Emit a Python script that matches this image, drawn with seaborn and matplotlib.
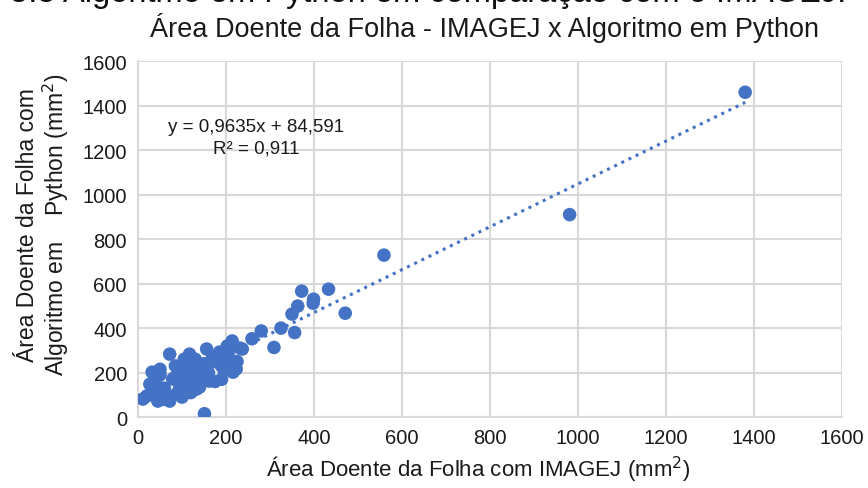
import numpy as np
import pandas as pd
import seaborn as sns
import matplotlib.pyplot as plt

# area (mm2): IMAGEJ vs python algorithm
imagej = [1380, 981, 559, 471, 433, 399, 398, 372, 363, 350, 356, 325, 309, 280, 259,
          237, 232, 214, 203, 216, 223, 207, 185, 180, 156, 151, 167, 162, 144, 133,
          133, 117, 117, 110, 101, 95, 79, 72, 72, 56, 45, 32, 27, 11,
          20, 40, 50, 60, 65, 85, 90, 100, 105, 120, 125, 130, 140, 150, 160, 170,
          175, 190, 195, 200, 210, 120, 85, 60, 35, 50, 100, 140, 110, 190, 205, 225]
python_alg = [1460, 910, 728, 467, 575, 530, 512, 566, 499, 463, 380, 400, 313, 387, 352,
              306, 310, 342, 320, 202, 216, 261, 292, 247, 306, 15, 252, 162, 216, 216,
              126, 283, 171, 247, 202, 139, 171, 283, 72, 117, 72, 202, 148, 81,
              95, 160, 190, 130, 100, 230, 110, 150, 260, 230, 190, 260, 180, 240, 200, 270,
              160, 230, 215, 275, 230, 110, 180, 80, 110, 215, 90, 135, 130, 170, 290, 250]

slope = 0.9635
intercept = 84.591
eq_text = "y = 0,9635x + 84,591"
r2_text = "R² = 0,911"
ticks = [0, 200, 400, 600, 800, 1000, 1200, 1400, 1600]

df = pd.DataFrame({"imagej": imagej, "python": python_alg})

sns.set_style("whitegrid")
plt.rcParams['font.family'] = ['Liberation Sans', 'DejaVu Sans']
blue = "#4472C4"
grey = "#D9D9D9"
txt = "#1a1a1a"

fig = plt.figure(figsize=(8.68, 4.89), dpi=100)
ax = fig.add_axes([0.159, 0.145, 0.811, 0.728])

sns.scatterplot(data=df, x="imagej", y="python", ax=ax, color=blue, s=95,
                edgecolor="none", zorder=3)

xs = np.array([min(imagej), max(imagej)])
ax.plot(xs, slope * xs + intercept, color=blue, linestyle=(0, (1, 1.6)),
        linewidth=2.2, zorder=2)

ax.set_xlim(0, 1600)
ax.set_ylim(0, 1600)
ax.set_xticks(ticks)
ax.set_yticks(ticks)
ax.tick_params(axis="both", length=0, labelsize=14.5, colors=txt, pad=8)
ax.grid(True, color=grey, linewidth=1.5)
for s in ax.spines.values():
    s.set_visible(False)
for side in ["left", "bottom"]:
    ax.spines[side].set_visible(True)
    ax.spines[side].set_color(grey)
    ax.spines[side].set_linewidth(1.5)
ax.set_xlabel("")
ax.set_ylabel("")

ax.text(0.168, 0.815, eq_text, transform=ax.transAxes, ha="center", va="center",
        fontsize=13.5, color=txt)
ax.text(0.168, 0.755, r2_text, transform=ax.transAxes, ha="center", va="center",
        fontsize=13.5, color=txt)

# caption of the page above the chart, only its lower half is in the picture
fig.text(0.493, 1.014, "5.5 Algoritmo em Python em comparação com o IMAGEJ.",
         ha="center", va="center", fontsize=23.5, color="#111111")
fig.text(0.558, 0.943, "Área Doente da Folha - IMAGEJ x Algoritmo em Python",
         ha="center", va="center", fontsize=19.5, color=txt)
fig.text(0.551, 0.04, "Área Doente da Folha com IMAGEJ (mm$^2$)",
         ha="center", va="center", fontsize=16, color=txt)
fig.text(0.032, 0.54, "Área Doente da Folha com", rotation=90,
         ha="center", va="center", fontsize=16.5, color=txt)
fig.text(0.064, 0.54, "Algoritmo em    Python (mm$^2$)", rotation=90,
         ha="center", va="center", fontsize=16.5, color=txt)

fig.savefig("out.png", dpi=100)
